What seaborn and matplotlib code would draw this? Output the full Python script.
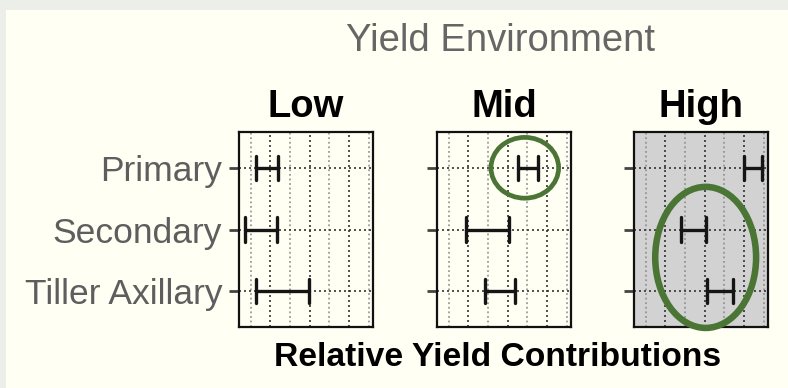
import numpy as np
import pandas as pd
import matplotlib
matplotlib.use("Agg")
import matplotlib.pyplot as plt
from matplotlib.patches import Ellipse, Rectangle
import seaborn as sns

# Yield components (rows) and yield environments (panels)
components = ["Primary", "Secondary", "Tiller Axillary"]
environments = ["Low", "Mid", "High"]

# Lower / upper bound of each contribution interval, in component order
low_lo = [0.129, 0.071, 0.129]
low_hi = [0.240, 0.234, 0.395]
mid_lo = [0.451, 0.188, 0.283]
mid_hi = [0.553, 0.405, 0.439]
high_lo = [0.598, 0.278, 0.414]
high_hi = [0.690, 0.405, 0.545]

bounds = {
    "Low": (low_lo, low_hi),
    "Mid": (mid_lo, mid_hi),
    "High": (high_lo, high_hi),
}

rows = []
for env in environments:
    lo, hi = bounds[env]
    for comp, a, b in zip(components, lo, hi):
        rows.append({"env": env, "component": comp, "value": a})
        rows.append({"env": env, "component": comp, "value": b})
df = pd.DataFrame(rows)

sns.set_style("ticks")
plt.rcParams["font.family"] = ["Liberation Sans", "DejaVu Sans"]

CREAM = "#fffff4"
GREEN = "#4a7535"

fig = plt.figure(figsize=(7.88, 3.88), dpi=100)
fig.patch.set_facecolor("#eceeea")
# cream card behind the chart
fig.add_artist(Rectangle((6 / 788, 0), 1, 1 - 10 / 388, transform=fig.transFigure,
                         facecolor=CREAM, edgecolor="none", zorder=0))

W, H = 788, 388
lefts = [239, 437, 634]
top, bottom, width = 132, 327, 134
faces = {"Low": CREAM, "Mid": CREAM, "High": "#d2d2d2"}

axes = []
for env, left in zip(environments, lefts):
    ax = fig.add_axes([left / W, 1 - bottom / H, width / W, (bottom - top) / H])
    ax.set_facecolor(faces[env])
    sns.pointplot(
        data=df[df["env"] == env], x="value", y="component", order=components,
        errorbar=("pi", 100), capsize=0.39, marker="", linestyle="none",
        color="#151515", err_kws={"linewidth": 2.4, "zorder": 4}, ax=ax,
    )
    ax.set_xlim(0.0405, 0.722)
    ax.set_ylim(2.58, -0.58)
    ax.set_xlabel("")
    ax.set_ylabel("")
    ax.set_xticks([0.2, 0.4, 0.6])
    ax.set_xticks([0.1, 0.3, 0.5, 0.7], minor=True)
    ax.grid(False)
    ax.grid(True, axis="x", which="major", color="#333333", linestyle=(0, (1.2, 1.8)), linewidth=1.2)
    ax.grid(True, axis="x", which="minor", color="#8a8a8a", linestyle=(0, (1.2, 1.8)), linewidth=1.1)
    ax.grid(True, axis="y", which="major", color="#333333", linestyle=(0, (1.2, 1.8)), linewidth=1.2)
    ax.set_axisbelow(True)
    ax.tick_params(axis="x", which="both", length=0, labelbottom=False)
    ax.tick_params(axis="y", which="major", length=7, width=2, color="#444444",
                   pad=5, labelsize=25.5, labelcolor="#5e5e5e")
    for s in ax.spines.values():
        s.set_visible(True)
        s.set_linewidth(1.6)
        s.set_color("#111111")
    if env != "Low":
        ax.tick_params(axis="y", labelleft=False)
    axes.append(ax)

# panel headings
for env, left in zip(environments, lefts):
    fig.text((left + width / 2) / W, 1 - 116.7 / H, env, ha="center", va="baseline",
             fontsize=27.5, fontweight="bold", color="black")

# highlight rings
ax_mid, ax_high = axes[1], axes[2]
ax_mid.add_patch(Ellipse((0.487, 0.0), 0.344, 0.985, facecolor="none",
                         edgecolor=GREEN, linewidth=3.4, zorder=5, clip_on=False))
ax_high.add_patch(Ellipse((0.405, 1.452), 0.513, 2.286, facecolor="none",
                          edgecolor=GREEN, linewidth=4.7, zorder=5, clip_on=False))

fig.text(500 / W, 1 - 51 / H, "Yield Environment", ha="center", va="baseline",
         fontsize=27.5, color="#666666")
fig.text(498 / W, 1 - 366 / H, "Relative Yield Contributions", ha="center", va="baseline",
         fontsize=24.2, fontweight="bold", color="black")

fig.savefig("out.png", dpi=100, facecolor=fig.get_facecolor())
